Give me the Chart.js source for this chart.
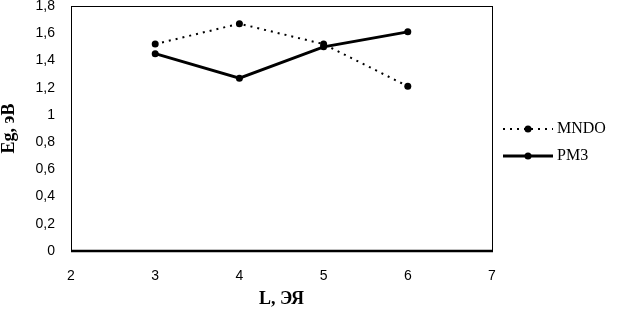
<!DOCTYPE html>
<html>
<head>
<meta charset="utf-8">
<script src="https://cdn.jsdelivr.net/npm/chart.js@4/dist/chart.umd.min.js"></script>
<style>
html,body{margin:0;padding:0;background:#fff;}
#wrap{width:621px;height:316px;position:relative;}
</style>
</head>
<body>
<div id="wrap"><canvas id="c" width="621" height="316"></canvas></div>
<script>
const xValues = [3, 4, 5, 6];
const mndoValues = [1.52, 1.67, 1.52, 1.21];
const pm3Values = [1.45, 1.27, 1.50, 1.61];
const seriesNames = ['MNDO', 'PM3'];
const xTitle = 'L, ЭЯ';
const yTitle = 'Eg, эВ';

const toPoints = (vals) => xValues.map((x, i) => ({x: x, y: vals[i]}));

const frame = {
  id: 'frame',
  afterDraw(chart) {
    const {ctx, chartArea: a} = chart;
    ctx.save();
    ctx.strokeStyle = '#000';
    ctx.lineWidth = 1;
    ctx.strokeRect(a.left + 0.5, a.top + 0.5, a.right - a.left, a.bottom - a.top);
    ctx.lineWidth = 2.5;
    ctx.beginPath();
    ctx.moveTo(a.left, a.bottom);
    ctx.lineTo(a.right + 1, a.bottom);
    ctx.stroke();
    // legend
    const items = chart.data.datasets;
    const ys = [129, 156];
    items.forEach((ds, i) => {
      const y = ys[i];
      ctx.strokeStyle = '#000';
      ctx.lineWidth = ds.borderWidth;
      ctx.setLineDash(ds.borderDash || []);
      ctx.beginPath();
      ctx.moveTo(503, y);
      ctx.lineTo(553, y);
      ctx.stroke();
      ctx.setLineDash([]);
      ctx.fillStyle = '#000';
      ctx.beginPath();
      ctx.arc(528, y, 3.5, 0, Math.PI * 2);
      ctx.fill();
      ctx.font = '16px "Liberation Serif"';
      ctx.textBaseline = 'middle';
      ctx.textAlign = 'left';
      ctx.fillText(ds.label, 557, y);
    });
    ctx.restore();
  }
};

new Chart(document.getElementById('c'), {
  type: 'line',
  data: {
    datasets: [
      {
        label: seriesNames[0],
        data: toPoints(mndoValues),
        borderColor: '#000',
        backgroundColor: '#000',
        borderWidth: 2,
        borderDash: [2, 5],
        pointRadius: 3.5,
        pointBackgroundColor: '#000',
        pointBorderWidth: 0,
        tension: 0
      },
      {
        label: seriesNames[1],
        data: toPoints(pm3Values),
        borderColor: '#000',
        backgroundColor: '#000',
        borderWidth: 3,
        pointRadius: 3.5,
        pointBackgroundColor: '#000',
        pointBorderWidth: 0,
        tension: 0
      }
    ]
  },
  options: {
    responsive: false,
    animation: false,
    layout: {padding: {top: 6, right: 129, left: 0, bottom: 0}},
    plugins: {legend: {display: false}, tooltip: {enabled: false}},
    scales: {
      x: {
        type: 'linear',
        min: 2, max: 7,
        grid: {display: false, drawTicks: false},
        border: {display: false},
        ticks: {stepSize: 1, color: '#000', padding: 17, font: {family: '"Liberation Sans"', size: 14}},
        title: {display: true, text: xTitle, color: '#000', padding: {top: 0, bottom: 6},
                font: {family: '"Liberation Serif"', size: 18, weight: 'bold', lineHeight: 1.2}},
        afterFit(s) { s.height = 65; s.paddingLeft = 0; s.paddingRight = 0; }
      },
      y: {
        min: 0, max: 1.8,
        grid: {display: false, drawTicks: false},
        border: {display: false},
        ticks: {stepSize: 0.2, color: '#000', padding: 16, font: {family: '"Liberation Sans"', size: 14},
                callback: (v) => String(Math.round(v * 10) / 10).replace('.', ',')},
        title: {display: true, text: yTitle, color: '#000', padding: {top: 0, bottom: 0},
                font: {family: '"Liberation Serif"', size: 18, weight: 'bold', lineHeight: 1}},
        afterFit(s) { s.width = 71; s.paddingTop = 0; s.paddingBottom = 0; }
      }
    }
  },
  plugins: [frame]
});
</script>
</body>
</html>
